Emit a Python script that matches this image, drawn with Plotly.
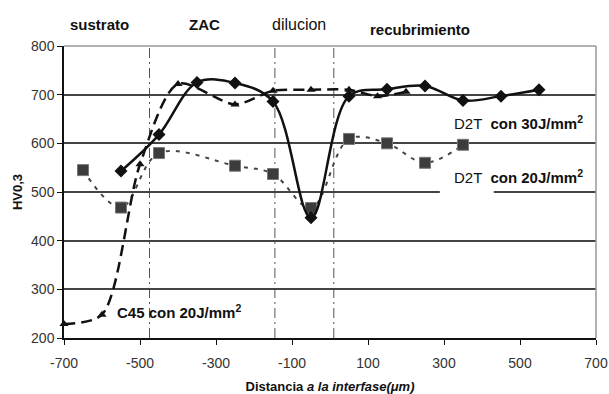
import plotly.graph_objects as go

# ---- data ----
x_d2t30 = [-550, -450, -350, -250, -150, -50, 50, 150, 250, 350, 450, 550]
y_d2t30 = [543, 618, 725, 724, 686, 447, 697, 711, 718, 688, 697, 710]

x_d2t20 = [-650, -550, -450, -250, -150, -50, 50, 150, 250, 350]
y_d2t20 = [545, 468, 580, 554, 537, 467, 609, 600, 560, 597]

x_c45 = [-700, -600, -500, -400, -250, -150, -50, 50, 125, 200]
y_c45 = [229, 248, 557, 722, 680, 708, 710, 710, 697, 706]

zone_bounds = [-475, -145, 10]
x_ticks = [-700, -500, -300, -100, 100, 300, 500, 700]
y_ticks = [200, 300, 400, 500, 600, 700, 800]

SANS = "Liberation Sans, Arial, sans-serif"

fig = go.Figure()

fig.add_trace(go.Scatter(
    x=x_d2t20, y=y_d2t20, mode="lines+markers", cliponaxis=False,
    line=dict(color="#444444", width=2, dash="4px,6px", shape="spline", smoothing=1),
    marker=dict(symbol="square", size=11, color="#3c3c3c", line=dict(color="#777777", width=1)),
    name="D2T con 20J/mm2"))

fig.add_trace(go.Scatter(
    x=x_c45, y=y_c45, mode="lines+markers", cliponaxis=False,
    line=dict(color="#111111", width=2.5, dash="11px,6px", shape="spline", smoothing=0.8),
    marker=dict(symbol="triangle-up", size=8, color="#111111"),
    name="C45 con 20J/mm2"))

fig.add_trace(go.Scatter(
    x=x_d2t30, y=y_d2t30, mode="lines+markers", cliponaxis=False,
    line=dict(color="#111111", width=2.5, shape="spline", smoothing=1),
    marker=dict(symbol="diamond", size=10, color="#111111"),
    name="D2T con 30J/mm2"))

# vertical zone boundaries
for xb in zone_bounds:
    fig.add_shape(type="line", xref="x", yref="y", x0=xb, x1=xb, y0=200, y1=800,
                  line=dict(color="#555555", width=1, dash="10px,4px,2px,4px"), layer="below")

# right and top border (gray)
fig.add_shape(type="line", xref="paper", yref="paper", x0=1, x1=1, y0=0, y1=1,
              line=dict(color="#999999", width=1.5))
fig.add_shape(type="line", xref="paper", yref="paper", x0=0, x1=1, y0=1, y1=1,
              line=dict(color="#999999", width=1.5))
# white box behind "D2T" label, interrupting the 500 gridline
fig.add_shape(type="rect", xref="x", yref="y", x0=289, x1=431, y0=493, y1=507,
              fillcolor="white", line=dict(width=0), layer="between")

# zone labels
zones = [("<b>sustrato</b>", 0.066, 1.072, 15), ("<b>ZAC</b>", 0.264, 1.075, 15),
         ("dilucion", 0.442, 1.075, 16), ("<b>recubrimiento</b>", 0.669, 1.055, 15)]
for txt, px, py, fs in zones:
    fig.add_annotation(text=txt, xref="paper", yref="paper", x=px, y=py,
                       showarrow=False, xanchor="center", yanchor="middle",
                       font=dict(family=SANS, size=fs, color="#111111"))

# series labels
fig.add_annotation(text="D2T  <b>con 30J/mm<sup>2</sup></b>", xref="x", yref="y", x=320, y=642,
                   showarrow=False, xanchor="left", yanchor="middle",
                   font=dict(family=SANS, size=15, color="#111111"))
fig.add_annotation(text="D2T  <b>con 20J/mm<sup>2</sup></b>", xref="x", yref="y", x=320, y=531,
                   showarrow=False, xanchor="left", yanchor="middle",
                   font=dict(family=SANS, size=15, color="#111111"))
fig.add_annotation(text="<b>C45 con 20J/mm<sup>2</sup></b>", xref="x", yref="y", x=-567, y=254,
                   showarrow=False, xanchor="left", yanchor="middle",
                   font=dict(family=SANS, size=15, color="#111111"))

fig.update_layout(
    width=609, height=394,
    margin=dict(l=64, r=13, t=46, b=56),
    paper_bgcolor="white", plot_bgcolor="white",
    showlegend=False,
    xaxis=dict(range=[-700, 700], tickvals=x_ticks, ticktext=[str(v) for v in x_ticks],
               showgrid=False, zeroline=False, showline=True, linecolor="#111111", linewidth=1.5,
               ticks="outside", ticklen=5, tickcolor="#111111", ticklabelstandoff=6,
               automargin=False,
               tickfont=dict(family=SANS, size=14, color="#333333"),
               title=dict(text="<b>Distancia <i>a la interfase(μm)</i></b>",
                          font=dict(family=SANS, size=13, color="#111111"), standoff=13)),
    yaxis=dict(range=[200, 800], tickvals=y_ticks, ticktext=[str(v) for v in y_ticks],
               showgrid=True, gridcolor="#444444", gridwidth=1.5, zeroline=False,
               showline=True, linecolor="#111111", linewidth=1.5,
               ticks="outside", ticklen=5, tickcolor="#111111", automargin=False,
               tickfont=dict(family=SANS, size=14, color="#333333"),
               title=dict(text="<b>HV0,3</b>", font=dict(family=SANS, size=13, color="#111111"),
                          standoff=6)),
)

fig.write_html("out.html")
